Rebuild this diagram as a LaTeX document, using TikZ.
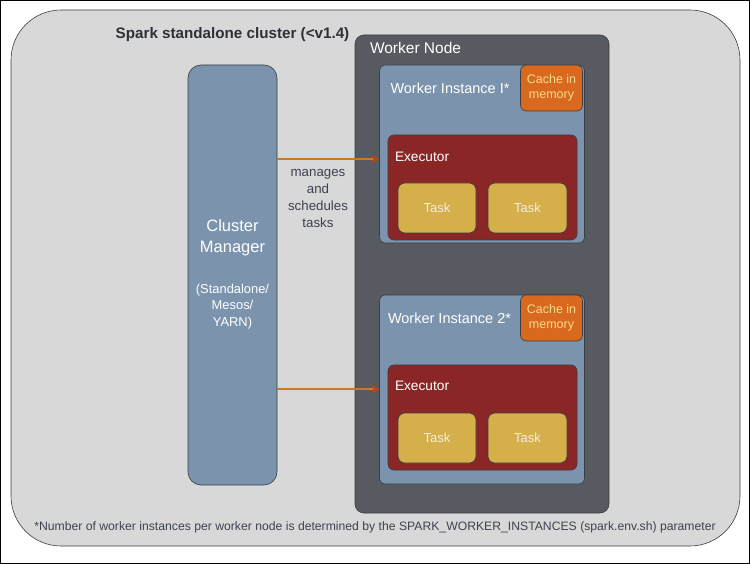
\documentclass[tikz,border=0pt]{standalone}
\usepackage{fontspec}
\setmainfont{Liberation Sans}
\usetikzlibrary{arrows.meta}
\definecolor{bggrey}{HTML}{D8D8D8}
\definecolor{edgegrey}{HTML}{3A3D44}
\definecolor{steel}{HTML}{7B93AD}
\definecolor{nodegrey}{HTML}{575A60}
\definecolor{cacheor}{HTML}{D9691F}
\definecolor{cachetxt}{HTML}{F6DC8C}
\definecolor{execred}{HTML}{8B2626}
\definecolor{taskyel}{HTML}{D4AF4A}
\definecolor{tasktxt}{HTML}{F4EEDC}
\definecolor{darktxt}{HTML}{2E3038}
\definecolor{midtxt}{HTML}{3C4250}
\definecolor{arrorange}{HTML}{D0781E}
\definecolor{arrred}{HTML}{B8451E}
\begin{document}
\begin{tikzpicture}[x=1pt,y=-1pt,
  panel/.style={rectangle, inner sep=0pt, outer sep=0pt, draw=edgegrey, line width=0.6pt},
  lbl/.style={inner sep=0pt, outer sep=0pt, font=\fontsize{#1}{#1}\selectfont},
  arr/.style={draw=arrorange, line width=2.4pt, -{Stealth[length=9pt,width=9pt,color=arrred,fill=arrred]}}
]
\useasboundingbox (0,0) rectangle (750,564);
\fill[white] (0,0) rectangle (750,564);
\draw[black, line width=1pt] (0.5,0.5) rectangle (749.5,563.5);

% outer cluster
\node[panel, fill=bggrey, rounded corners=50pt, minimum width=729pt, minimum height=536pt] (cluster) at (375.5,278) {};
\node[lbl=15.2, font=\bfseries\fontsize{15.2}{15.2}\selectfont, text=darktxt] (title) at (232.5,35) {Spark standalone cluster (<v1.4)};

% cluster manager
\node[panel, fill=steel, rounded corners=13pt, minimum width=89pt, minimum height=420pt] (cm) at (232.5,275) {};
\node[lbl=16.5, text=white, align=center] (cmtext) at (232.5,237.5) {Cluster\\[5pt]Manager};
\node[lbl=12.9, text=white, align=center] (cmsub) at (232.5,306.5) {(Standalone/\\[3.5pt]Mesos/\\[3.5pt]YARN)};

% worker node
\node[panel, fill=nodegrey, rounded corners=9pt, minimum width=254pt, minimum height=478pt] (wn) at (482,274) {};
\node[lbl=15.5, text=white, anchor=west] (wntext) at (370,48) {Worker Node};

% worker instance 1
\node[panel, fill=steel, rounded corners=6pt, minimum width=205pt, minimum height=178pt] (wi1) at (482,154) {};
\node[lbl=14.5, text=white, anchor=west] (wi1text) at (390.5,88) {Worker Instance I*};
\node[panel, fill=cacheor, rounded corners=6pt, minimum width=62pt, minimum height=46pt] (c1) at (551.5,88) {};
\node[lbl=12.5, text=cachetxt, align=center] (c1text) at (551.5,88) {Cache in\\[2pt]memory};
\node[panel, fill=execred, rounded corners=6pt, minimum width=189pt, minimum height=105pt] (e1) at (482.5,187.5) {};
\node[lbl=13.7, text=white, anchor=west] (e1text) at (395,157) {Executor};
\node[panel, fill=taskyel, rounded corners=7pt, minimum width=78pt, minimum height=50pt] (t11) at (437,208) {};
\node[lbl=13, text=tasktxt] (t11text) at (437,208) {Task};
\node[panel, fill=taskyel, rounded corners=7pt, minimum width=79pt, minimum height=50pt] (t12) at (527.5,208) {};
\node[lbl=13, text=tasktxt] (t12text) at (527.5,208) {Task};

% worker instance 2
\node[panel, fill=steel, rounded corners=6pt, minimum width=205pt, minimum height=189pt] (wi2) at (482,389.5) {};
\node[lbl=14.5, text=white, anchor=west] (wi2text) at (388,318) {Worker Instance 2*};
\node[panel, fill=cacheor, rounded corners=6pt, minimum width=62pt, minimum height=46pt] (c2) at (551.5,318) {};
\node[lbl=12.5, text=cachetxt, align=center] (c2text) at (551.5,318) {Cache in\\[2pt]memory};
\node[panel, fill=execred, rounded corners=6pt, minimum width=189pt, minimum height=105pt] (e2) at (482.5,417.5) {};
\node[lbl=13.7, text=white, anchor=west] (e2text) at (395,386) {Executor};
\node[panel, fill=taskyel, rounded corners=7pt, minimum width=78pt, minimum height=50pt] (t21) at (437,438) {};
\node[lbl=13, text=tasktxt] (t21text) at (437,438) {Task};
\node[panel, fill=taskyel, rounded corners=7pt, minimum width=79pt, minimum height=50pt] (t22) at (527.5,438) {};
\node[lbl=13, text=tasktxt] (t22text) at (527.5,438) {Task};

% arrows
\coordinate (y1) at (0,159);
\coordinate (y2) at (0,389);
\draw[arr] (cm.east |- y1) -- (wi1.west |- y1);
\draw[arr] (cm.east |- y2) -- (wi2.west |- y2);
\node[lbl=13.3, text=midtxt, align=center] (mtext) at (318,198.5) {manages\\[3.7pt]and\\[3.7pt]schedules\\[3.7pt]tasks};

% footnote
\node[lbl=12.2, text=midtxt] (foot) at (375,527) {*Number of worker instances per worker node is determined by the SPARK\_WORKER\_INSTANCES (spark.env.sh) parameter};
\end{tikzpicture}
\end{document}
